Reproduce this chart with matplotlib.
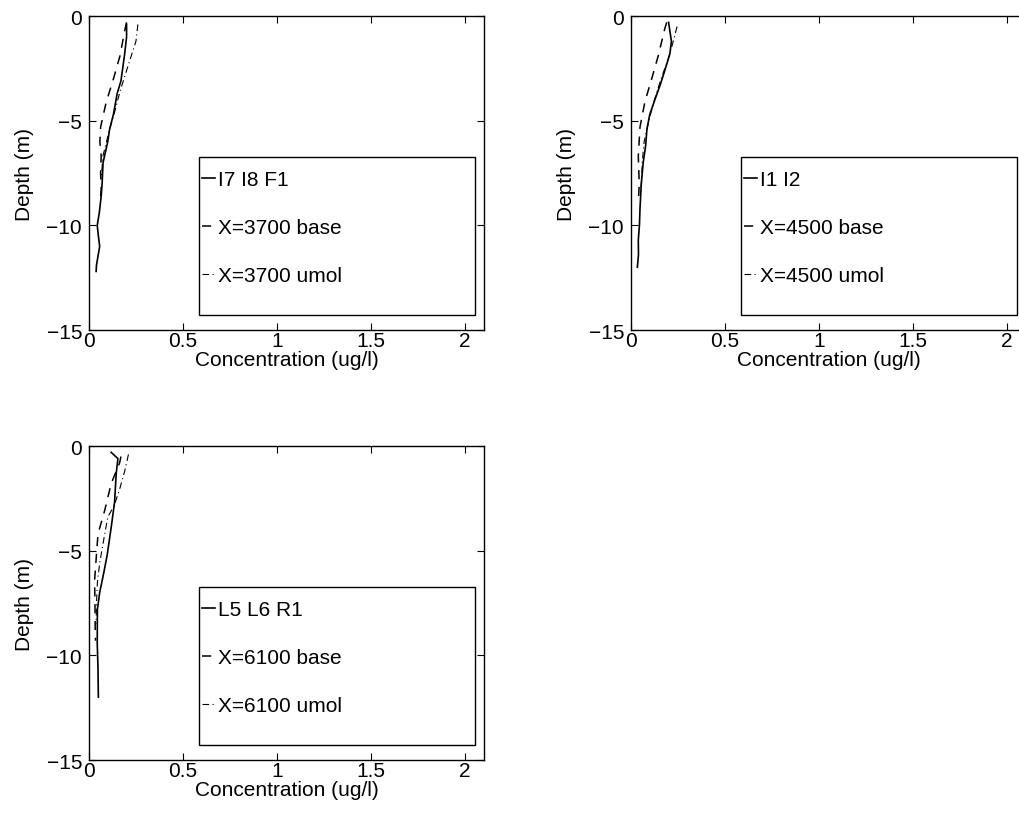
import matplotlib
matplotlib.use("Agg")
import matplotlib.pyplot as plt
from matplotlib.patches import Rectangle

plt.rcParams['font.family'] = ['Liberation Sans', 'DejaVu Sans']
plt.rcParams['font.size'] = 15

# Profile 1: I7 I8 F1 against model runs at X=3700
p1_obs_depth = [-0.4, -1.0, -1.8, -3.1, -3.7, -4.7, -5.4, -6.0, -7.0, -8.0, -8.6, -9.4, -10.0, -10.5, -11.0, -11.9, -12.2]
p1_obs_conc = [0.20, 0.20, 0.19, 0.17, 0.15, 0.13, 0.11, 0.10, 0.075, 0.07, 0.065, 0.055, 0.044, 0.05, 0.057, 0.04, 0.038]
p1_base_depth = [-0.3, -0.7, -1.9, -3.1, -4.1, -5.3, -6.0, -6.7, -7.5, -8.3, -8.8]
p1_base_conc = [0.20, 0.19, 0.165, 0.127, 0.092, 0.062, 0.058, 0.065, 0.062, 0.065, 0.06]
p1_umol_depth = [-0.4, -1.2, -1.9, -2.6, -3.6, -4.7, -5.4, -6.7, -7.8]
p1_umol_conc = [0.26, 0.25, 0.225, 0.20, 0.165, 0.133, 0.11, 0.074, 0.065]

# Profile 2: I1 I2 against model runs at X=4500
p2_obs_depth = [-0.3, -1.2, -1.8, -2.6, -3.3, -4.0, -4.7, -5.4, -6.2, -7.0, -8.0, -9.2, -10.0, -10.7, -11.4, -12.0]
p2_obs_conc = [0.20, 0.215, 0.207, 0.18, 0.155, 0.127, 0.10, 0.085, 0.078, 0.065, 0.055, 0.048, 0.045, 0.039, 0.04, 0.034]
p2_base_depth = [-0.3, -0.6, -1.9, -3.0, -4.1, -5.3, -6.7, -8.0, -8.8]
p2_base_conc = [0.19, 0.18, 0.145, 0.11, 0.074, 0.048, 0.039, 0.044, 0.04]
p2_umol_depth = [-0.5, -1.2, -2.0, -3.0, -4.0, -5.0, -6.0, -7.0, -7.8, -8.5]
p2_umol_conc = [0.245, 0.225, 0.2, 0.16, 0.125, 0.095, 0.07, 0.06, 0.057, 0.05]

# Profile 3: L5 L6 R1 against model runs at X=6100
p3_obs_depth = [-0.3, -0.6, -1.3, -2.7, -3.9, -5.2, -6.0, -7.0, -7.8, -9.4, -10.6, -12.0]
p3_obs_conc = [0.118, 0.154, 0.145, 0.136, 0.118, 0.097, 0.08, 0.057, 0.045, 0.044, 0.048, 0.05]
p3_base_depth = [-0.5, -0.8, -1.8, -3.1, -4.2, -5.3, -6.4, -7.5, -8.6, -9.3]
p3_base_conc = [0.17, 0.163, 0.118, 0.083, 0.048, 0.039, 0.03, 0.032, 0.033, 0.035]
p3_umol_depth = [-0.4, -1.2, -2.0, -2.8, -3.4, -4.7, -5.6, -6.5, -7.5, -8.5]
p3_umol_conc = [0.21, 0.19, 0.165, 0.136, 0.10, 0.074, 0.057, 0.045, 0.04, 0.038]

p1_labels = ["I7 I8 F1", "X=3700 base", "X=3700 umol"]
p2_labels = ["I1 I2", "X=4500 base", "X=4500 umol"]
p3_labels = ["L5 L6 R1", "X=6100 base", "X=6100 umol"]

x_ticks = [0, 0.5, 1, 1.5, 2]
x_tick_labels = ["0", "0.5", "1", "1.5", "2"]
y_ticks = [0, -5, -10, -15]

panels = [
    ([0.0873, 0.6002, 0.3876, 0.3792],
     (p1_obs_conc, p1_obs_depth), (p1_base_conc, p1_base_depth), (p1_umol_conc, p1_umol_depth), p1_labels),
    ([0.6192, 0.6002, 0.3876, 0.3792],
     (p2_obs_conc, p2_obs_depth), (p2_base_conc, p2_base_depth), (p2_umol_conc, p2_umol_depth), p2_labels),
    ([0.0873, 0.0809, 0.3876, 0.3792],
     (p3_obs_conc, p3_obs_depth), (p3_base_conc, p3_base_depth), (p3_umol_conc, p3_umol_depth), p3_labels),
]

fig = plt.figure(figsize=(10.19, 8.28), dpi=100)

for rect, obs, base, umol, labels in panels:
    ax = fig.add_axes(rect)
    h1, = ax.plot(obs[0], obs[1], color='black', lw=1.2, ls='-')
    h2, = ax.plot(base[0], base[1], color='black', lw=1.1, ls=(0, (6, 5)))
    h3, = ax.plot(umol[0], umol[1], color='black', lw=0.8, ls=(0, (6, 3, 1, 3)))
    ax.set_xlim(0, 2.1)
    ax.set_ylim(-15, 0)
    ax.set_xticks(x_ticks)
    ax.set_xticklabels(x_tick_labels)
    ax.set_yticks(y_ticks)
    ax.tick_params(direction='in', length=5, width=0.8, top=True, right=True,
                   labelsize=15)
    ax.tick_params(axis='x', pad=1)
    ax.tick_params(axis='y', pad=5)
    for s in ax.spines.values():
        s.set_linewidth(1.0)
    ax.set_xlabel("Concentration (ug/l)", fontsize=15, labelpad=0)
    ax.set_ylabel("Depth (m)", fontsize=15, labelpad=9)

    # legend frame drawn as its own box, entries placed inside it
    ax.add_patch(Rectangle((0.278, 0.048), 0.699, 0.503, transform=ax.transAxes,
                           fill=False, lw=1.0, ec='black', zorder=5))
    ax.legend([h1, h2, h3], labels, loc='upper left',
              bbox_to_anchor=(0.285, 0.51), frameon=False,
              handlelength=0.65, handletextpad=0.15, labelspacing=1.4,
              fontsize=15, borderpad=0.0, borderaxespad=0.0)

fig.savefig("out.png", dpi=100)
